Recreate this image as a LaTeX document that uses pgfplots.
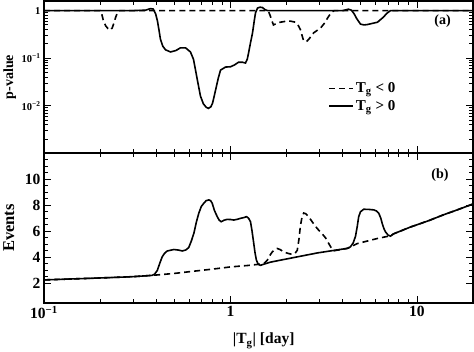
\documentclass[border=0pt]{standalone}
\usepackage{fontspec}
\setmainfont{Liberation Serif}
\usepackage{pgfplots}
\pgfplotsset{compat=1.18}
\pgfplotstableread{
x y
0.1 1
0.3 1
0.35 1.02
0.372 1.10
0.385 1.08
0.397 0.85
0.406 0.60
0.414 0.38
0.421 0.25
0.433 0.18
0.448 0.150
0.477 0.135
0.51 0.145
0.539 0.165
0.574 0.165
0.61 0.135
0.633 0.095
0.65 0.055
0.665 0.034
0.69 0.016
0.715 0.011
0.74 0.0093
0.762 0.0088
0.785 0.0095
0.801 0.0113
0.815 0.015
0.831 0.021
0.86 0.038
0.884 0.056
0.94 0.065
1.0 0.066
1.05 0.072
1.104 0.082
1.16 0.082
1.203 0.079
1.23 0.095
1.249 0.127
1.28 0.21
1.312 0.336
1.34 0.6
1.362 0.9
1.396 1.13
1.44 1.18
1.484 1.16
1.53 1.05
1.58 1.0
4.0 1.0
4.29 1.07
4.45 1.02
4.6 0.86
4.75 0.68
4.98 0.52
5.2 0.50
5.43 0.51
6.14 0.57
6.61 0.73
6.9 0.88
7.21 1.0
20 1
}\pPos
\pgfplotstableread{
x y
0.1 1
0.2 1
0.204 0.85
0.208 0.62
0.214 0.48
0.22 0.42
0.227 0.39
0.232 0.43
0.236 0.52
0.242 0.72
0.248 0.92
0.255 1
1.58 1
1.60 0.95
1.63 0.8
1.67 0.6
1.70 0.5
1.77 0.54
1.85 0.57
2.0 0.6
2.1 0.6
2.23 0.57
2.3 0.5
2.37 0.4
2.42 0.3
2.46 0.24
2.52 0.22
2.58 0.23
2.65 0.26
2.79 0.34
3.04 0.43
3.2 0.55
3.31 0.69
3.45 0.88
3.52 0.95
3.6 1
20 1
}\pNeg
\pgfplotstableread{
x y
0.1 2.25
0.2 2.40
0.3 2.50
0.38 2.60
0.392 2.70
0.405 2.98
0.418 3.55
0.430 4.02
0.443 4.3
0.458 4.48
0.497 4.59
0.525 4.55
0.551 4.48
0.575 4.55
0.597 4.74
0.615 5.2
0.636 5.83
0.656 6.7
0.676 7.38
0.697 7.9
0.719 8.15
0.74 8.35
0.765 8.41
0.783 8.35
0.798 8.15
0.82 7.6
0.849 7.12
0.870 6.85
0.891 6.73
0.925 6.85
0.960 6.91
1.0 6.9
1.041 6.86
1.09 6.92
1.131 6.99
1.18 7.05
1.218 7.12
1.25 7.0
1.280 6.73
1.305 6.0
1.333 5.05
1.355 4.3
1.378 3.76
1.41 3.45
1.448 3.37
1.50 3.45
1.64 3.62
2.18 3.97
2.93 4.33
3.5 4.50
4.24 4.68
4.40 4.80
4.55 5.1
4.68 5.6
4.78 6.34
4.87 7.12
4.98 7.5
5.18 7.69
5.5 7.68
5.87 7.64
6.08 7.55
6.24 7.38
6.40 7.0
6.51 6.6
6.65 6.2
6.78 5.95
7.0 5.7
7.21 5.62
7.5 5.8
9.22 6.32
11.5 6.8
13.8 7.25
16.5 7.65
20 8.1
}\ePos
\pgfplotstableread{
x y
0.1 2.25
0.2 2.40
0.3 2.50
0.38 2.60
0.5 2.75
0.6 2.88
0.8 3.08
1.0 3.25
1.28 3.38
1.45 3.47
1.52 3.55
1.574 3.76
1.62 4.1
1.674 4.4
1.73 4.6
1.78 4.67
1.85 4.58
1.93 4.4
2.05 4.28
2.14 4.22
2.22 4.3
2.28 4.53
2.33 5.4
2.37 6.4
2.42 7.1
2.47 7.4
2.53 7.35
2.63 7.1
2.75 6.7
2.92 6.2
3.08 5.85
3.23 5.5
3.38 5.0
3.51 4.6
3.6 4.5
4.24 4.68
4.79 5.05
6.14 5.44
7.21 5.65
7.5 5.8
9.22 6.32
11.5 6.8
13.8 7.25
16.5 7.65
20 8.1
}\eNeg
\pgfplotsset{
  myaxis/.style={
    scale only axis, width=428pt,
    xmin=0.1, xmax=20,
    axis line style={line width=1.8pt},
    every tick/.style={black, line width=0.9pt},
    major tick length=7pt, minor tick length=4pt,
    tick align=inside,
    tick label style={font=\fontsize{15.5}{17}\selectfont\bfseries},
  },
  lpos/.style={black, line width=1.6pt, no markers},
  lneg/.style={black, line width=1.6pt, no markers, dash pattern=on 6pt off 4pt},
}
\begin{document}
\begin{tikzpicture}[font=\fontsize{14}{16}\selectfont\bfseries]
\begin{axis}[xmode=log, ymode=log, myaxis, name=top, height=152pt,
  ymin=1e-3, ymax=1.6,
  xticklabels={},
  ytick={1e-3,1e-2,1e-1,1},
  yticklabels={,10\textsuperscript{−2},10\textsuperscript{−1},1},
  yticklabel style={font=\fontsize{10.5}{12}\selectfont\bfseries},
  ylabel={p-value},
  ylabel style={at={(axis description cs:-0.08,0.5)}, anchor=center, font=\fontsize{14}{16}\selectfont\bfseries},
  legend style={draw=none, fill=none, at={(axis description cs:0.655,0.49)}, anchor=north west,
    row sep=2pt, font=\fontsize{15}{17}\selectfont\bfseries},
  legend cell align=left,
  legend image code/.code={\draw[#1] (0pt,0pt) -- (24pt,0pt);},
]
\addplot[lneg] table {\pNeg};
\addlegendentry{T\textsubscript{g} < 0}
\addplot[lpos] table {\pPos};
\addlegendentry{T\textsubscript{g} > 0}
\node at (rel axis cs:0.929,0.868) {(a)};
\end{axis}
\begin{axis}[xmode=log, myaxis, at={(top.south west)}, anchor=north west, height=149pt,
  ymin=0.5, ymax=12,
  ytick={2,4,6,8,10,12},
  yticklabels={2,4,6,8,10,},
  minor y tick num=3,
  xtick={0.1,1,10},
  xticklabels={10\textsuperscript{−1},1,10},
  ylabel={Events},
  ylabel style={at={(axis description cs:-0.082,0.5)}, anchor=center, font=\fontsize{16.5}{18}\selectfont\bfseries},
  xlabel={|T\textsubscript{g}| [day]},
  xlabel style={at={(axis description cs:0.512,-0.255)}, anchor=center, font=\fontsize{15.5}{17}\selectfont\bfseries},
]
\addplot[lneg] table {\eNeg};
\addplot[lpos] table {\ePos};
\node at (rel axis cs:0.923,0.852) {(b)};
\end{axis}
\end{tikzpicture}
\end{document}
